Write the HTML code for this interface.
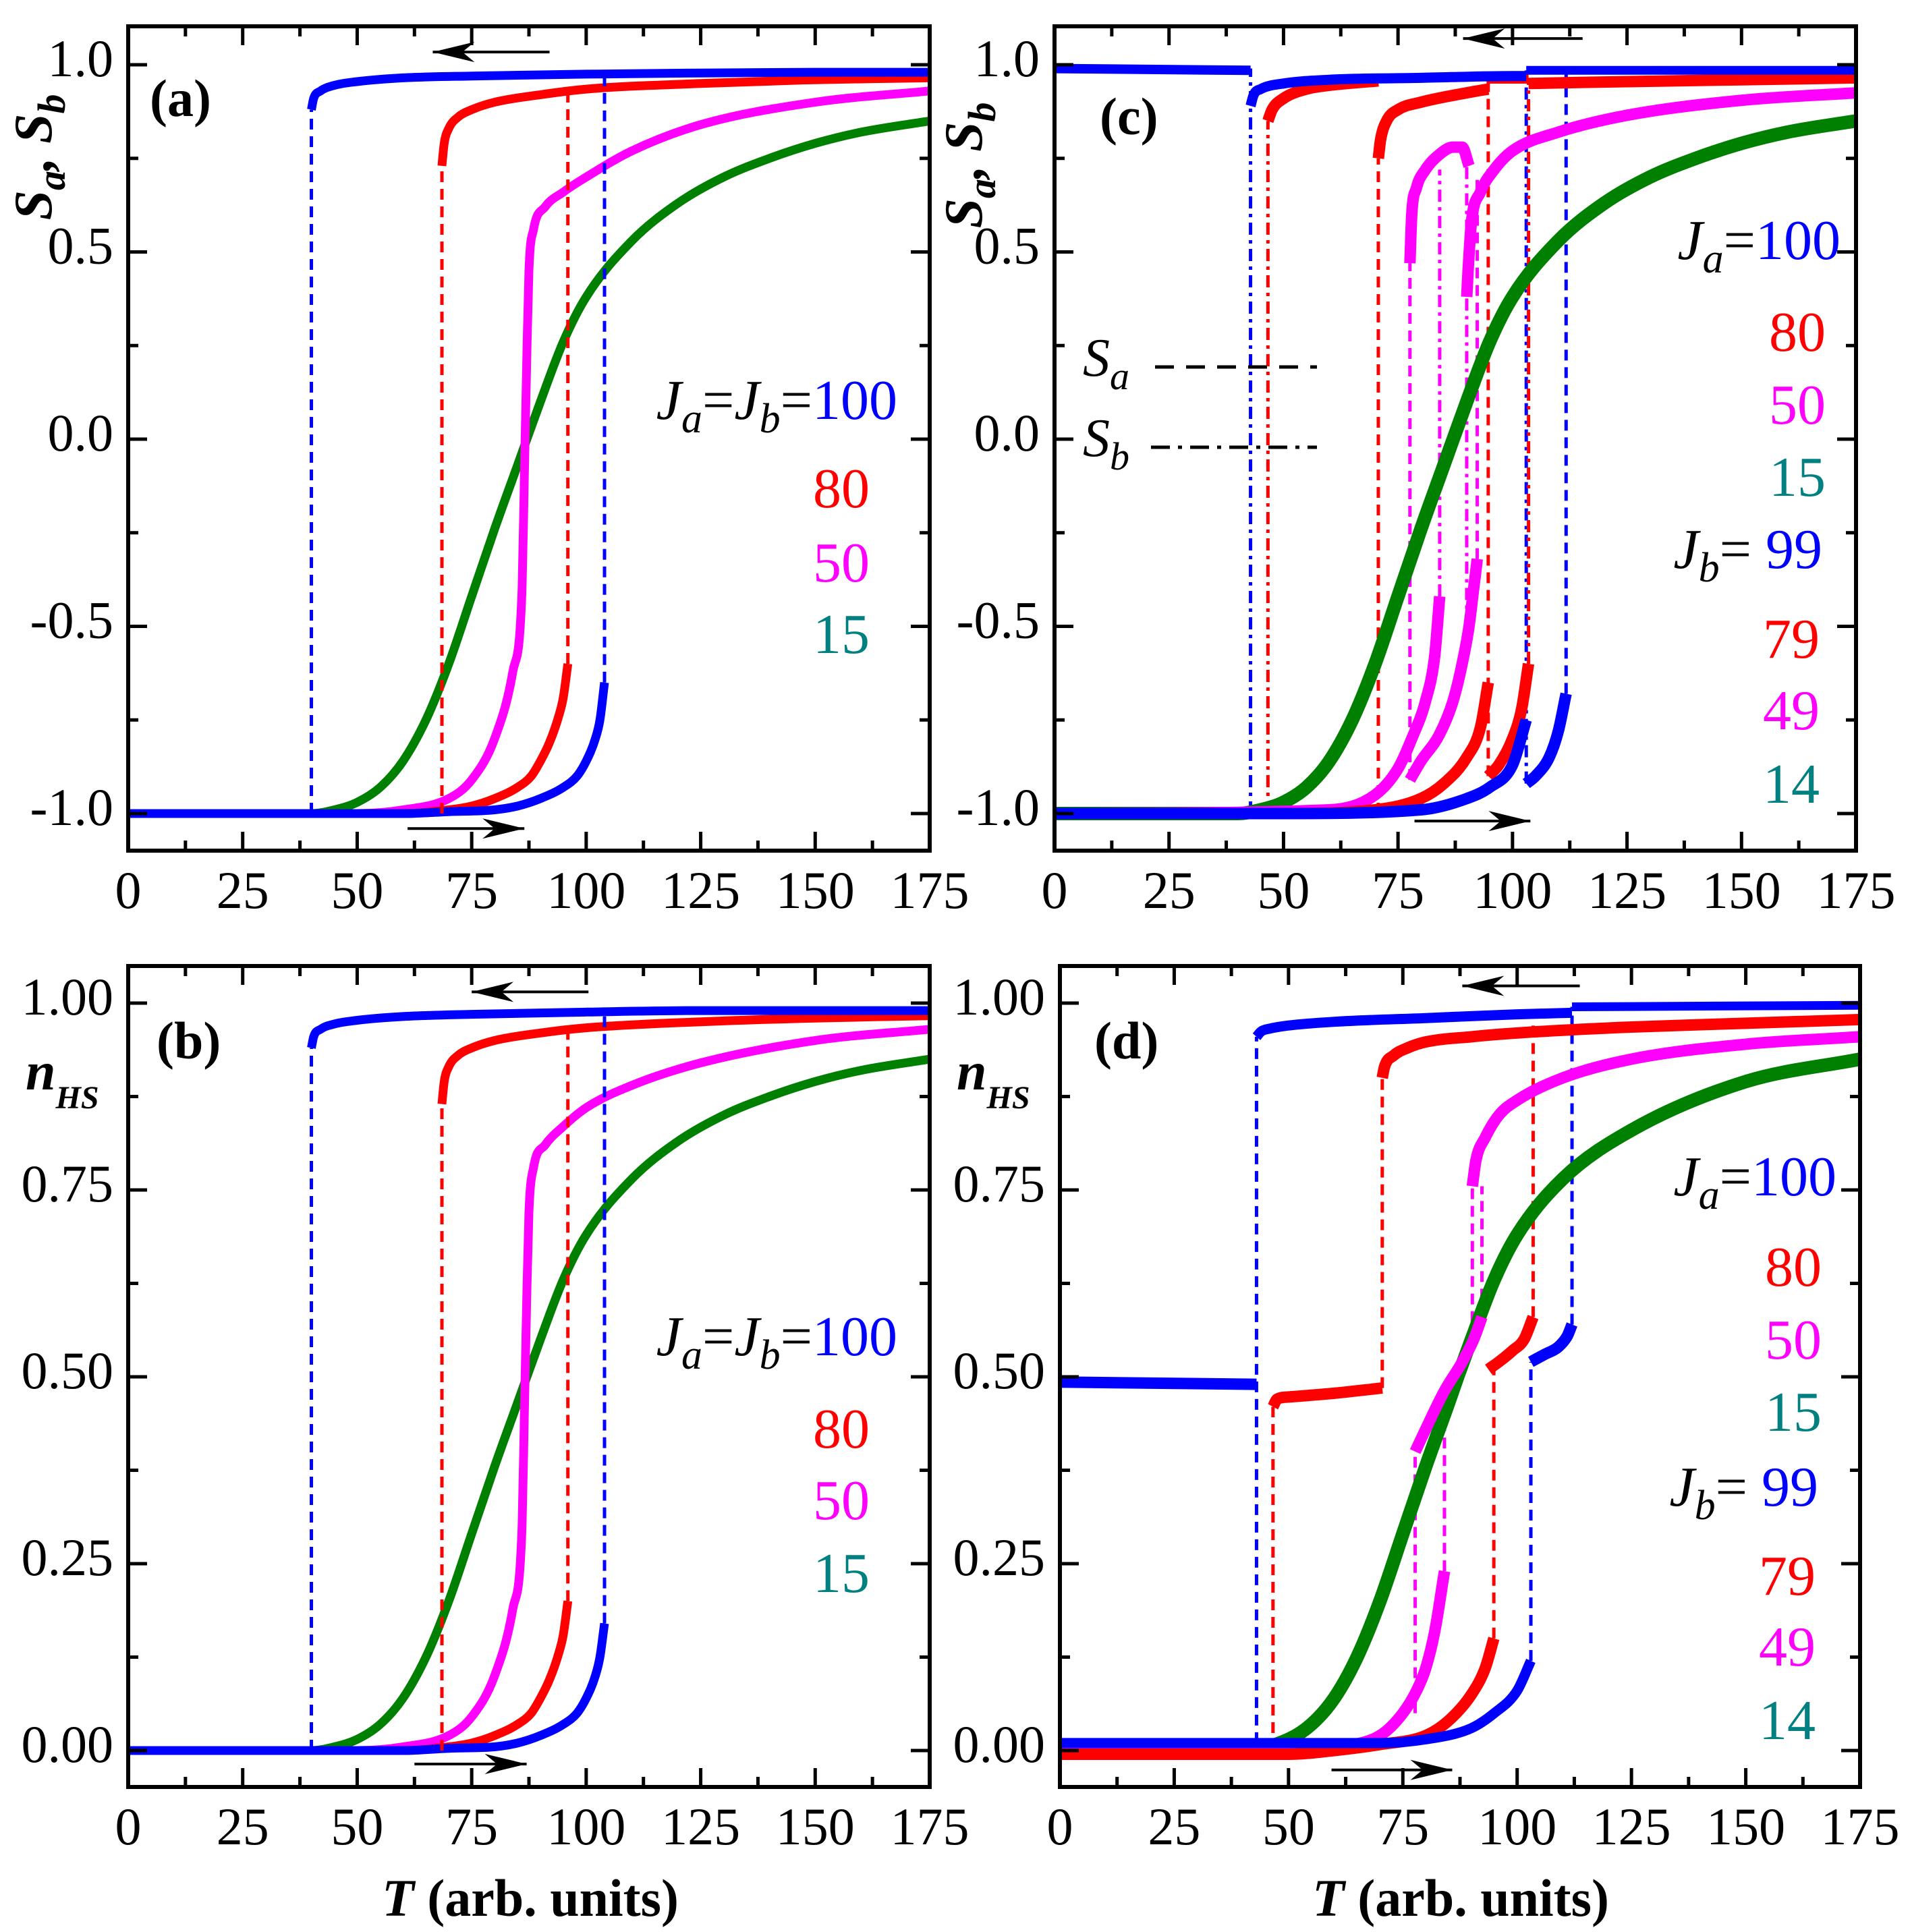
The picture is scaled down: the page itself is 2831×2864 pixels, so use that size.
<!DOCTYPE html>
<html><head><meta charset="utf-8"><style>
html,body{margin:0;padding:0;background:#fff}
svg{display:block}
text{font-family:"Liberation Serif",serif}
</style></head><body>
<svg id="fig" xmlns="http://www.w3.org/2000/svg" width="2831" height="2864" viewBox="0 0 2831 2864">
<g id="layer"></g>
<text x="222" y="172" font-size="78" font-weight="bold">(a)</text>
<text x="1630" y="199" font-size="78" font-weight="bold">(c)</text>
<text x="232" y="1569" font-size="78" font-weight="bold">(b)</text>
<text x="1622" y="1569" font-size="78" font-weight="bold">(d)</text>
<text transform="translate(76,233) rotate(-90)" text-anchor="middle" font-size="80" font-weight="bold" font-style="italic">S<tspan font-size="58" dy="20">a</tspan><tspan dy="-20">, S</tspan><tspan font-size="58" dy="20">b</tspan></text>
<text transform="translate(1455,245) rotate(-90)" text-anchor="middle" font-size="80" font-weight="bold" font-style="italic">S<tspan font-size="58" dy="20">a</tspan><tspan dy="-20">, S</tspan><tspan font-size="58" dy="20">b</tspan></text>
<text x="38" y="1615" font-size="80" font-weight="bold" font-style="italic">n<tspan font-size="48" dy="28">HS</tspan></text>
<text x="1418" y="1615" font-size="80" font-weight="bold" font-style="italic">n<tspan font-size="48" dy="28">HS</tspan></text>
<text x="786" y="2840" text-anchor="middle" font-size="78" font-weight="bold"><tspan font-style="italic">T</tspan> (arb. units)</text>
<text x="2165" y="2840" text-anchor="middle" font-size="78" font-weight="bold"><tspan font-style="italic">T</tspan> (arb. units)</text>
<g font-size="84">
<text x="1330" y="621" text-anchor="end"><tspan font-style="italic">J</tspan><tspan font-style="italic" font-size="62" dy="20">a</tspan><tspan dy="-20">=</tspan><tspan font-style="italic">J</tspan><tspan font-style="italic" font-size="62" dy="20">b</tspan><tspan dy="-20">=</tspan><tspan fill="#0000ff">100</tspan></text>
<text x="1289" y="752" text-anchor="end" fill="#ff0000">80</text>
<text x="1289" y="862" text-anchor="end" fill="#ff00ff">50</text>
<text x="1289" y="968" text-anchor="end" fill="#008080">15</text>
</g>
<g font-size="84">
<text x="1330" y="2009" text-anchor="end"><tspan font-style="italic">J</tspan><tspan font-style="italic" font-size="62" dy="20">a</tspan><tspan dy="-20">=</tspan><tspan font-style="italic">J</tspan><tspan font-style="italic" font-size="62" dy="20">b</tspan><tspan dy="-20">=</tspan><tspan fill="#0000ff">100</tspan></text>
<text x="1289" y="2146" text-anchor="end" fill="#ff0000">80</text>
<text x="1289" y="2252" text-anchor="end" fill="#ff00ff">50</text>
<text x="1289" y="2360" text-anchor="end" fill="#008080">15</text>
</g>
<g font-size="84">
<text x="2728" y="384" text-anchor="end"><tspan font-style="italic">J</tspan><tspan font-style="italic" font-size="62" dy="20">a</tspan><tspan dy="-20">=</tspan><tspan fill="#0000ff">100</tspan></text>
<text x="2706" y="520" text-anchor="end" fill="#ff0000">80</text>
<text x="2706" y="628" text-anchor="end" fill="#ff00ff">50</text>
<text x="2706" y="735" text-anchor="end" fill="#008080">15</text>
<text x="2701" y="842" text-anchor="end"><tspan font-style="italic">J</tspan><tspan font-style="italic" font-size="62" dy="20">b</tspan><tspan dy="-20">= </tspan><tspan fill="#0000ff">99</tspan></text>
<text x="2697" y="975" text-anchor="end" fill="#ff0000">79</text>
<text x="2697" y="1081" text-anchor="end" fill="#ff00ff">49</text>
<text x="2697" y="1190" text-anchor="end" fill="#008080">14</text>
</g>
<g font-size="84">
<text x="2722" y="1772" text-anchor="end"><tspan font-style="italic">J</tspan><tspan font-style="italic" font-size="62" dy="20">a</tspan><tspan dy="-20">=</tspan><tspan fill="#0000ff">100</tspan></text>
<text x="2700" y="1906" text-anchor="end" fill="#ff0000">80</text>
<text x="2700" y="2014" text-anchor="end" fill="#ff00ff">50</text>
<text x="2700" y="2121" text-anchor="end" fill="#008080">15</text>
<text x="2695" y="2232" text-anchor="end"><tspan font-style="italic">J</tspan><tspan font-style="italic" font-size="62" dy="20">b</tspan><tspan dy="-20">= </tspan><tspan fill="#0000ff">99</tspan></text>
<text x="2691" y="2364" text-anchor="end" fill="#ff0000">79</text>
<text x="2691" y="2469" text-anchor="end" fill="#ff00ff">49</text>
<text x="2691" y="2578" text-anchor="end" fill="#008080">14</text>
</g>
<g>
<text x="1605" y="557" font-size="80" font-style="italic">S<tspan font-size="58" dy="20">a</tspan></text>
<line x1="1712" y1="544" x2="1952" y2="544" stroke="#000" stroke-width="5" stroke-dasharray="28 18"/>
<text x="1605" y="676" font-size="80" font-style="italic">S<tspan font-size="58" dy="20">b</tspan></text>
<line x1="1706" y1="663" x2="1952" y2="663" stroke="#000" stroke-width="5" stroke-dasharray="28 12 6 12"/>
</g>
</svg>
<script>
const aGreenT=[0,40,45,50,55,60,65,70,75,80,85,90,95,100,110,120,130,140,150,160,175];
const aGreenS=[-1,-1,-0.99,-0.97,-0.93,-0.86,-0.75,-0.6,-0.42,-0.24,-0.07,0.1,0.26,0.38,0.53,0.63,0.7,0.75,0.79,0.82,0.85];
const aMagT=[0,50,60,70,75,80,84,86,86.5,87,87.5,88.5,91,95,100,110,125,150,175];
const aMagS=[-1,-1,-0.99,-0.96,-0.91,-0.8,-0.62,-0.4,-0.1,0.2,0.45,0.56,0.62,0.66,0.7,0.77,0.84,0.9,0.93];
const aRedHeatT=[0,50,60,70,75,80,85,88,90,92,94,95,96];
const aRedHeatS=[-1,-1,-1,-0.99,-0.98,-0.96,-0.93,-0.9,-0.86,-0.81,-0.74,-0.69,-0.6];
const aRedCoolT=[68.5,69,70,72,75,80,90,100,125,150,175];
const aRedCoolS=[0.73,0.79,0.83,0.86,0.88,0.9,0.92,0.935,0.95,0.96,0.965];
const aBlueHeatT=[0,60,70,80,85,90,95,98,100,102,103,104];
const aBlueHeatS=[-1,-1,-0.995,-0.99,-0.98,-0.96,-0.93,-0.9,-0.86,-0.8,-0.75,-0.65];
const aBlueCoolT=[40,40.5,42,45,50,60,75,100,125,150,175];
const aBlueCoolS=[0.88,0.91,0.93,0.945,0.955,0.965,0.97,0.975,0.978,0.98,0.98];
const aJumpT=[40,104,68.5,96];
const bGreenN=[0,0,0.005,0.015,0.035,0.07,0.125,0.2,0.29,0.38,0.465,0.55,0.63,0.69,0.765,0.815,0.85,0.875,0.895,0.91,0.925];
const bMagN=[0,0,0.005,0.02,0.045,0.1,0.19,0.3,0.45,0.6,0.72,0.78,0.81,0.835,0.86,0.89,0.92,0.95,0.965];
const bRedHeatN=[0,0,0,0.005,0.01,0.02,0.035,0.05,0.07,0.095,0.13,0.155,0.2];
const bRedCoolN=[0.865,0.895,0.915,0.93,0.94,0.95,0.96,0.967,0.975,0.98,0.983];
const bBlueHeatN=[0,0,0.003,0.005,0.01,0.02,0.035,0.05,0.07,0.1,0.125,0.17];
const bBlueCoolN=[0.94,0.955,0.965,0.972,0.977,0.982,0.985,0.988,0.99,0.99,0.99];
const cBlueTopT=[0,42.8];            const cBlueTopS=[0.99,0.985];
const cBlueCoolT=[42.8,43.5,45,50,60,80,100,103]; const cBlueCoolS=[0.89,0.92,0.935,0.95,0.96,0.965,0.97,0.97];
const cBlueHiT=[103,110,175];         const cBlueHiS=[0.985,0.985,0.985];
const cBlueHeatAT=[0,50,80,90,95,100,103]; const cBlueHeatAS=[-1,-1,-0.99,-0.96,-0.93,-0.87,-0.75];
const cBlueHeatBT=[103,105,108,110,111.7]; const cBlueHeatBS=[-0.92,-0.9,-0.85,-0.78,-0.68];
const cRedCool1T=[46.6,47.5,50,55,60,70.7]; const cRedCool1S=[0.85,0.88,0.91,0.935,0.945,0.957];
const cRedCool2T=[70.7,71.2,72.5,75,80,90,94.7]; const cRedCool2S=[0.75,0.8,0.85,0.88,0.9,0.925,0.935];
const cRedTopT=[94.7,103.5]; const cRedTopS=[0.963,0.963];
const cRedHiT=[103.5,125,150,175]; const cRedHiS=[0.95,0.955,0.96,0.965];
const cRedHeatAT=[0,50,70,80,85,90,93,94.7]; const cRedHeatAS=[-1,-1,-0.99,-0.96,-0.92,-0.85,-0.77,-0.65];
const cRedHeatBT=[94.7,97,100,102,103.5]; const cRedHeatBS=[-0.9,-0.87,-0.8,-0.72,-0.6];
const cMagUp1T=[77.6,78,79,81,84,87,89,90.5]; const cMagUp1S=[0.47,0.6,0.67,0.72,0.76,0.78,0.78,0.73];
const cMagUp2T=[90,90.3,91,93,96,100,110,125,150,175]; const cMagUp2S=[0.38,0.45,0.577,0.66,0.72,0.77,0.82,0.865,0.905,0.925];
const cMagHeatAT=[0,60,70,75,78,81,83,84.1]; const cMagHeatAS=[-1,-0.99,-0.95,-0.88,-0.8,-0.7,-0.58,-0.42];
const cMagHeatBT=[77.6,80,84,87,89,90.5,91.5,92.3]; const cMagHeatBS=[-0.91,-0.86,-0.79,-0.7,-0.6,-0.5,-0.4,-0.32];
const cJumpT=[42.8,46.6,70.7,77.6,84.1,90,92.3,94.7,103,103.5,111.7];
const cJumpLo=[-1,-1,-1,-0.91,-0.42,-0.5,-0.32,-0.9,-0.92,-0.6,-0.68];
const cJumpHi=[0.99,0.85,0.75,0.47,0.72,0.73,0.7,0.963,0.985,0.963,0.985];
const dGreenT=[0,40,50,55,60,65,70,75,80,85,87,90,95,100,110,125,150,175];
const dGreenN=[0,0,0.015,0.035,0.07,0.125,0.2,0.29,0.38,0.465,0.5,0.55,0.63,0.69,0.765,0.83,0.895,0.925];
const dBlueMidT=[0,43]; const dBlueMidN=[0.493,0.49];
const dBlueCoolT=[43,44,46,50,60,80,100,112]; const dBlueCoolN=[0.955,0.962,0.966,0.97,0.975,0.98,0.985,0.987];
const dBlueHiT=[112,175]; const dBlueHiN=[0.995,0.997];
const dBlueHeatAT=[0,50,70,80,90,95,100,103]; const dBlueHeatAN=[0.01,0.01,0.01,0.015,0.03,0.05,0.08,0.12];
const dBlueHeatBT=[103,106,109,111,112]; const dBlueHeatBN=[0.52,0.53,0.54,0.555,0.57];
const dRedMidT=[46.6,47.5,50,60,70.5]; const dRedMidN=[0.46,0.47,0.473,0.478,0.485];
const dRedCoolT=[70.5,71,73,76,80,90,100,125,150,175]; const dRedCoolN=[0.9,0.915,0.93,0.94,0.948,0.955,0.96,0.968,0.973,0.978];
const dRedHeatAT=[0,50,60,70,80,85,90,93,94.9]; const dRedHeatAN=[-0.005,-0.005,0,0.008,0.02,0.04,0.075,0.11,0.15];
const dRedHeatBT=[93.7,96,99,101.5,103.5]; const dRedHeatBN=[0.51,0.52,0.535,0.55,0.58];
const dMagUpT=[90.2,91,93,96,100,110,125,150,175]; const dMagUpN=[0.755,0.79,0.82,0.85,0.87,0.9,0.925,0.945,0.955];
const dMagMidT=[77.7,80,84,88,90.5,92.3]; const dMagMidN=[0.4,0.43,0.48,0.52,0.55,0.58];
const dMagHeatT=[0,50,60,70,75,78,80,82,84.1]; const dMagHeatN=[0,0,0.005,0.02,0.05,0.08,0.11,0.16,0.24];
const dJumpT=[43,46.6,70.5,77.7,84.1,90.2,92.3,94.9,103,103.5,112];
const dJumpLo=[0.01,0,0.485,0.05,0.24,0.55,0.58,0.15,0.12,0.58,0.57];
const dJumpHi=[0.955,0.46,0.9,0.4,0.48,0.755,0.755,0.51,0.52,0.97,0.995];
const xTicks=[0,25,50,75,100,125,150,175];
const ySTicks=[-1.0,-0.5,0.0,0.5,1.0];
const ySTickLabels=["-1.0","-0.5","0.0","0.5","1.0"];
const yNTicks=[0,0.25,0.5,0.75,1.0];
const yNTickLabels=["0.00","0.25","0.50","0.75","1.00"];

const NS='http://www.w3.org/2000/svg';
const layer=document.getElementById('layer');
const BLUE='#0000ff',RED='#ff0000',MAG='#ff00ff',GREEN='#008000';
function mkPanel(x0,x1,top,bot,vA,pA,vB,pB){
  return {x0,x1,top,bot,
    X:t=>x0+(x1-x0)*t/175,
    Y:v=>pA+(v-vA)*(pB-pA)/(vB-vA)};
}
const PA=mkPanel(190,1378,39,1261,1,96,-1,1206);
const PC=mkPanel(1563,2751,39,1261,1,96,-1,1206);
const PB=mkPanel(190,1378,1432,2649,1,1487,0,2595);
const PD=mkPanel(1571,2757,1432,2649,1,1487,0,2595);

// monotone cubic (Fritsch-Carlson) path through pixel points
function smoothPath(xs,ys){
  const n=xs.length;
  if(n<3){return 'M'+xs.map((x,i)=>x.toFixed(1)+','+ys[i].toFixed(1)).join(' L');}
  const d=[],m=new Array(n);
  for(let i=0;i<n-1;i++){const h=xs[i+1]-xs[i]; d.push(h===0?0:(ys[i+1]-ys[i])/h);}
  m[0]=d[0];m[n-1]=d[n-2];
  for(let i=1;i<n-1;i++){m[i]=(d[i-1]*d[i]<=0)?0:(d[i-1]+d[i])/2;}
  for(let i=0;i<n-1;i++){
    if(d[i]===0){m[i]=0;m[i+1]=0;continue;}
    const a=m[i]/d[i],b=m[i+1]/d[i],s=a*a+b*b;
    if(s>9){const t=3/Math.sqrt(s);m[i]=t*a*d[i];m[i+1]=t*b*d[i];}
  }
  let p='M'+xs[0].toFixed(1)+','+ys[0].toFixed(1);
  for(let i=0;i<n-1;i++){
    const h=(xs[i+1]-xs[i])/3;
    p+=` C${(xs[i]+h).toFixed(1)},${(ys[i]+m[i]*h).toFixed(1)} ${(xs[i+1]-h).toFixed(1)},${(ys[i+1]-m[i+1]*h).toFixed(1)} ${xs[i+1].toFixed(1)},${ys[i+1].toFixed(1)}`;
  }
  return p;
}
function series(P,T,V,color,w,name){
  const el=document.createElementNS(NS,'path');
  
  
  el.setAttribute('d',smoothPath(T.map(P.X),V.map(P.Y)));
  el.setAttribute('fill','none');
  el.setAttribute('stroke',color);
  el.setAttribute('stroke-width',w);
  el.setAttribute('stroke-linejoin','round');
  layer.appendChild(el);
}
function jump(P,t,lo,hi,color,dash,name){
  const el=document.createElementNS(NS,'line');
  
  
  el.setAttribute('x1',P.X(t));el.setAttribute('x2',P.X(t));
  el.setAttribute('y1',P.Y(lo));el.setAttribute('y2',P.Y(hi));
  el.setAttribute('stroke',color);el.setAttribute('stroke-width',5);
  el.setAttribute('stroke-dasharray',dash);
  layer.appendChild(el);
}
function arrow(P,t1,t2,v,name){
  const g=document.createElementNS(NS,'g');
  
  
  const xa=P.X(t1),xb=P.X(t2),y=P.Y(v);
  const ln=document.createElementNS(NS,'line');
  ln.setAttribute('x1',xa);ln.setAttribute('x2',xb);ln.setAttribute('y1',y);ln.setAttribute('y2',y);
  ln.setAttribute('stroke','#000');ln.setAttribute('stroke-width',4);
  g.appendChild(ln);
  const d=xb>xa?1:-1;
  const hd=document.createElementNS(NS,'path');
  hd.setAttribute('d',`M${xb},${y} L${xb-d*62},${y-15} L${xb-d*44},${y} L${xb-d*62},${y+15} Z`);
  hd.setAttribute('fill','#000');
  g.appendChild(hd);
  layer.appendChild(g);
}
function axes(P,yT,yL,minorStep,id){
  const g=document.createElementNS(NS,'g');
  
  
  let d='';
  for(let t=0;t<=175.01;t+=12.5){
    const major=Math.abs(t/25-Math.round(t/25))<1e-6, L=major?28:15, x=P.X(t);
    d+=`M${x},${P.bot} V${P.bot-L} M${x},${P.top} V${P.top+L} `;
  }
  const vmin=yT[0], vmax=yT[yT.length-1];
  for(let v=vmin-minorStep*2; v<=vmax+minorStep*2+1e-9; v+=minorStep){
    const y=P.Y(v); if(y<P.top+3||y>P.bot-3) continue;
    const k=Math.round((v-vmin)/minorStep), L=(k%2===0)?28:15;
    d+=`M${P.x0},${y} H${P.x0+L} M${P.x1},${y} H${P.x1-L} `;
  }
  const tk=document.createElementNS(NS,'path');
  tk.setAttribute('d',d);tk.setAttribute('stroke','#000');tk.setAttribute('stroke-width',5);
  g.appendChild(tk);
  const fr=document.createElementNS(NS,'rect');
  
  
  fr.setAttribute('x',P.x0);fr.setAttribute('y',P.top);
  fr.setAttribute('width',P.x1-P.x0);fr.setAttribute('height',P.bot-P.top);
  fr.setAttribute('fill','none');fr.setAttribute('stroke','#000');fr.setAttribute('stroke-width',6);
  g.appendChild(fr);
  xTicks.forEach(t=>{
    const tx=document.createElementNS(NS,'text');
    
    
    tx.setAttribute('x',P.X(t));tx.setAttribute('y',P.bot+85);
    tx.setAttribute('text-anchor','middle');tx.setAttribute('font-size','78');
    tx.textContent=String(t);
    g.appendChild(tx);
  });
  yT.forEach((v,i)=>{
    const tx=document.createElementNS(NS,'text');
    
    
    tx.setAttribute('x',P.x0-22);tx.setAttribute('y',P.Y(v)+17);
    tx.setAttribute('text-anchor','end');tx.setAttribute('font-size','78');
    tx.textContent=yL[i];
    g.appendChild(tx);
  });
  layer.appendChild(g);
}
const DASH='16 10', DDOT='18 8 5 8';
series(PA,aGreenT,aGreenS,GREEN,13,'curve-a-15');
series(PA,aMagT,aMagS,MAG,13,'curve-a-50');
series(PA,aRedHeatT,aRedHeatS,RED,13,'curve-a-80-heating');
series(PA,aRedCoolT,aRedCoolS,RED,13,'curve-a-80-cooling');
series(PA,aBlueHeatT,aBlueHeatS,BLUE,13,'curve-a-100-heating');
series(PA,aBlueCoolT,aBlueCoolS,BLUE,13,'curve-a-100-cooling');
jump(PA,aJumpT[0],-1,aBlueCoolS[0],BLUE,DASH,'jump-a-100-cool');
jump(PA,aJumpT[1],aBlueHeatS[aBlueHeatS.length-1],0.975,BLUE,DASH,'jump-a-100-heat');
jump(PA,aJumpT[2],-1,aRedCoolS[0],RED,DASH,'jump-a-80-cool');
jump(PA,aJumpT[3],aRedHeatS[aRedHeatS.length-1],0.93,RED,DASH,'jump-a-80-heat');
arrow(PA,92,66.5,1.034,'arrow-a-cooling');
arrow(PA,61,86.5,-1.04,'arrow-a-heating');
axes(PA,ySTicks,ySTickLabels,0.25,'a');
series(PB,aGreenT,bGreenN,GREEN,13,'curve-b-15');
series(PB,aMagT,bMagN,MAG,13,'curve-b-50');
series(PB,aRedHeatT,bRedHeatN,RED,13,'curve-b-80-heating');
series(PB,aRedCoolT,bRedCoolN,RED,13,'curve-b-80-cooling');
series(PB,aBlueHeatT,bBlueHeatN,BLUE,13,'curve-b-100-heating');
series(PB,aBlueCoolT,bBlueCoolN,BLUE,13,'curve-b-100-cooling');
jump(PB,aJumpT[0],0,bBlueCoolN[0],BLUE,DASH,'jump-b-100-cool');
jump(PB,aJumpT[1],bBlueHeatN[bBlueHeatN.length-1],0.988,BLUE,DASH,'jump-b-100-heat');
jump(PB,aJumpT[2],0,bRedCoolN[0],RED,DASH,'jump-b-80-cool');
jump(PB,aJumpT[3],bRedHeatN[bRedHeatN.length-1],0.965,RED,DASH,'jump-b-80-heat');
arrow(PB,100.5,75,1.015,'arrow-b-cooling');
arrow(PB,62.5,87,-0.018,'arrow-b-heating');
axes(PB,yNTicks,yNTickLabels,0.125,'b');
const cCols=[BLUE,RED,RED,MAG,MAG,MAG,MAG,RED,BLUE,RED,BLUE];
const cSty=[DDOT,DDOT,DASH,DASH,DDOT,DDOT,DASH,DASH,DDOT,DDOT,DASH];
cJumpT.forEach((t,i)=>{ jump(PC,t,cJumpLo[i],cJumpHi[i],cCols[i],cSty[i],'jump-c-'+i); });
series(PC,aGreenT,aGreenS,GREEN,20,'curve-c-15');
series(PC,cMagHeatAT,cMagHeatAS,MAG,17,'curve-c-50-heating-a');
series(PC,cMagHeatBT,cMagHeatBS,MAG,17,'curve-c-50-heating-b');
series(PC,cMagUp1T,cMagUp1S,MAG,17,'curve-c-50-cooling-a');
series(PC,cMagUp2T,cMagUp2S,MAG,17,'curve-c-50-cooling-b');
series(PC,cRedHeatAT,cRedHeatAS,RED,17,'curve-c-80-heating-a');
series(PC,cRedHeatBT,cRedHeatBS,RED,17,'curve-c-80-heating-b');
series(PC,cRedCool1T,cRedCool1S,RED,17,'curve-c-80-cooling-a');
series(PC,cRedCool2T,cRedCool2S,RED,17,'curve-c-80-cooling-b');
series(PC,cRedTopT,cRedTopS,RED,15,'curve-c-80-top');
series(PC,cRedHiT,cRedHiS,RED,17,'curve-c-80-high');
series(PC,cBlueHeatAT,cBlueHeatAS,BLUE,17,'curve-c-100-heating-a');
series(PC,cBlueHeatBT,cBlueHeatBS,BLUE,17,'curve-c-100-heating-b');
series(PC,cBlueTopT,cBlueTopS,BLUE,14,'curve-c-100-top');
series(PC,cBlueCoolT,cBlueCoolS,BLUE,15,'curve-c-100-cooling');
series(PC,cBlueHiT,cBlueHiS,BLUE,13,'curve-c-100-high');
arrow(PC,115.3,89.2,1.07,'arrow-c-cooling');
arrow(PC,78.6,103.9,-1.02,'arrow-c-heating');
axes(PC,ySTicks,ySTickLabels,0.25,'c');
const dCols=[BLUE,RED,RED,MAG,MAG,MAG,MAG,RED,BLUE,RED,BLUE];
dJumpT.forEach((t,i)=>{ jump(PD,t,dJumpLo[i],dJumpHi[i],dCols[i],DASH,'jump-d-'+i); });
series(PD,dGreenT,dGreenN,GREEN,20,'curve-d-15');
series(PD,dMagHeatT,dMagHeatN,MAG,17,'curve-d-50-heating');
series(PD,dMagMidT,dMagMidN,MAG,17,'curve-d-50-middle');
series(PD,dMagUpT,dMagUpN,MAG,17,'curve-d-50-cooling');
series(PD,dRedHeatAT,dRedHeatAN,RED,17,'curve-d-80-heating-a');
series(PD,dRedHeatBT,dRedHeatBN,RED,17,'curve-d-80-heating-b');
series(PD,dRedMidT,dRedMidN,RED,17,'curve-d-80-middle');
series(PD,dRedCoolT,dRedCoolN,RED,17,'curve-d-80-cooling');
series(PD,dBlueHeatAT,dBlueHeatAN,BLUE,15,'curve-d-100-heating-a');
series(PD,dBlueHeatBT,dBlueHeatBN,BLUE,17,'curve-d-100-heating-b');
series(PD,dBlueMidT,dBlueMidN,BLUE,17,'curve-d-100-middle');
series(PD,dBlueCoolT,dBlueCoolN,BLUE,15,'curve-d-100-cooling');
series(PD,dBlueHiT,dBlueHiN,BLUE,13,'curve-d-100-high');
arrow(PD,113.7,88,1.023,'arrow-d-cooling');
arrow(PD,59.4,85.8,-0.026,'arrow-d-heating');
axes(PD,yNTicks,yNTickLabels,0.125,'d');
</script>
</body></html>
